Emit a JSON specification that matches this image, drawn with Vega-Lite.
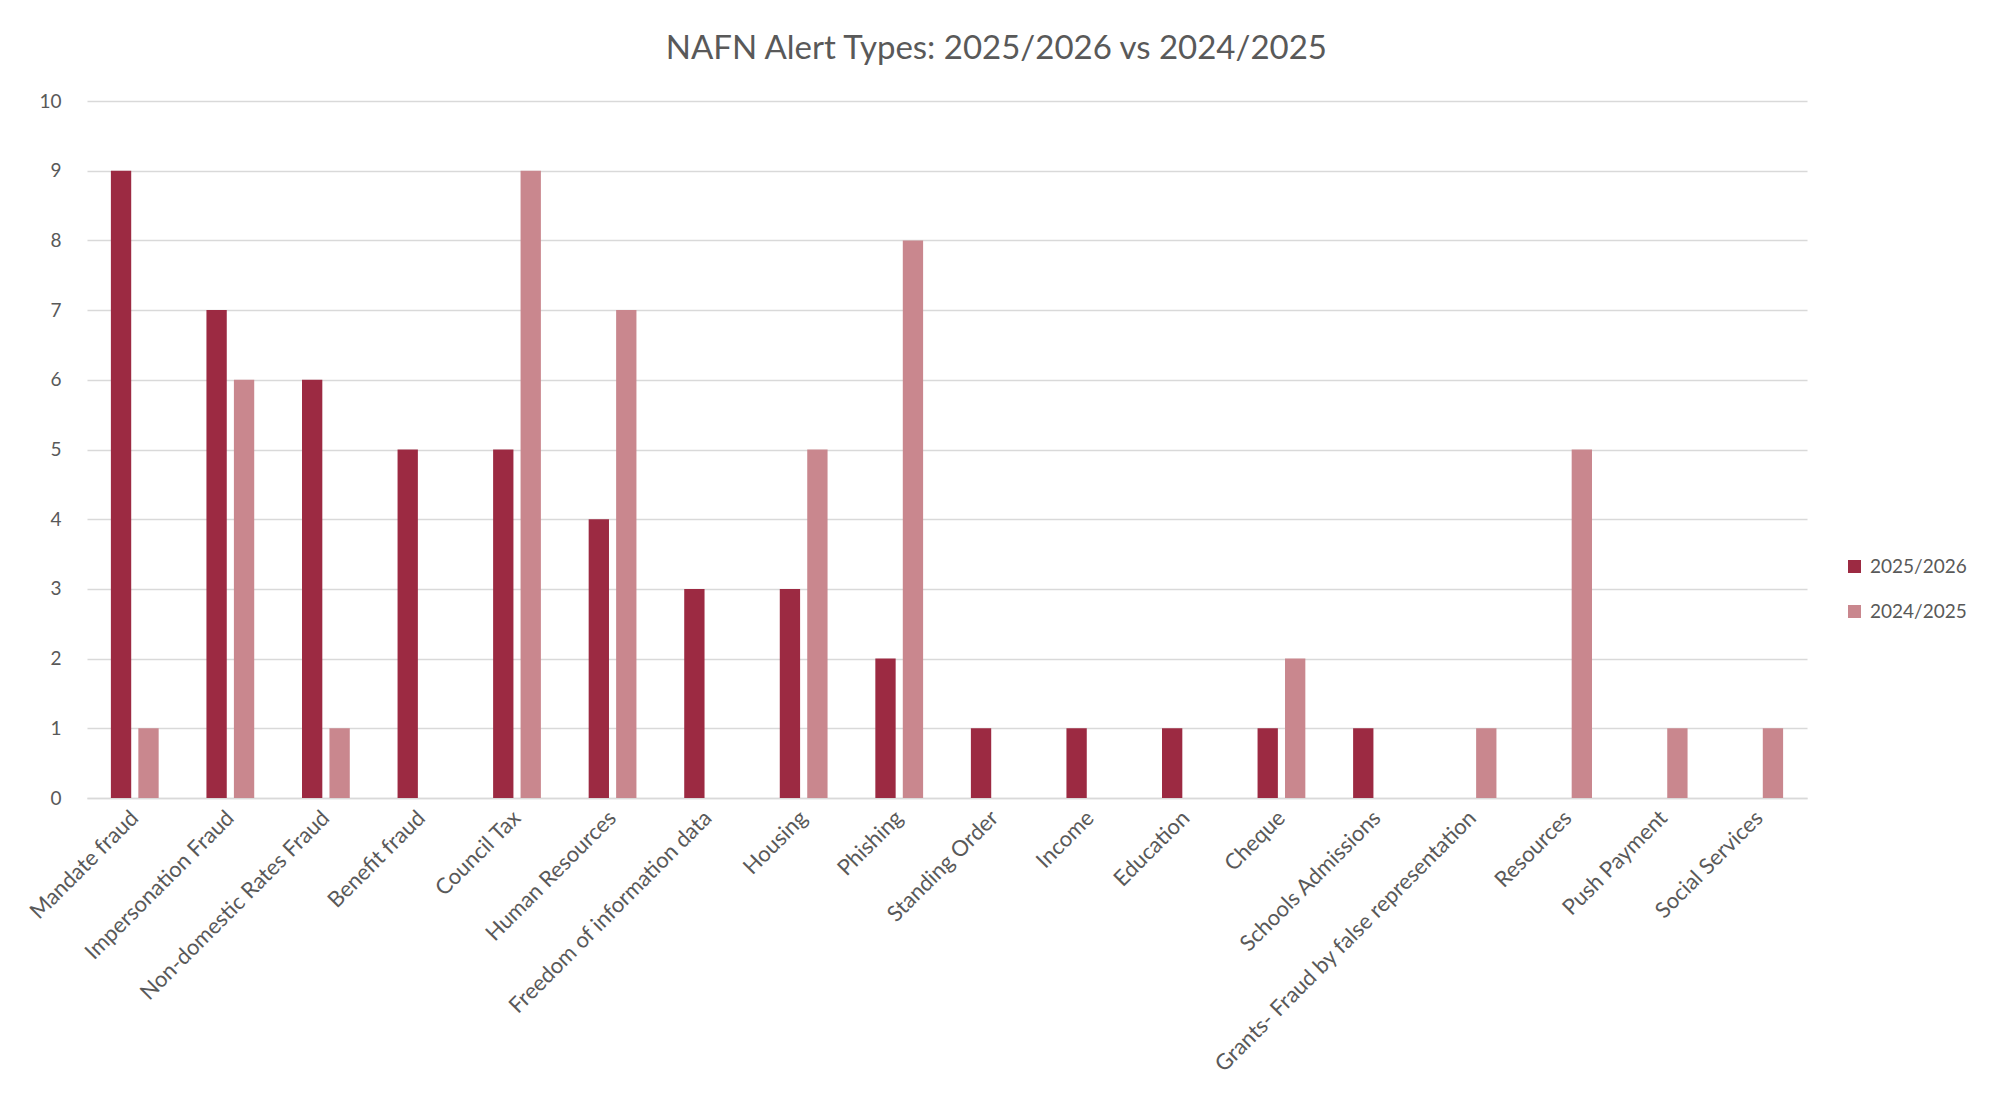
{
  "$schema": "https://vega.github.io/schema/vega-lite/v6.json",
  "autosize": "none",
  "width": 1720,
  "height": 697,
  "padding": {"left": 87, "top": 101, "right": 195, "bottom": 308},
  "background": "white",
  "title": {
    "text": "NAFN Alert Types: 2025/2026 vs 2024/2025",
    "font": "Lato",
    "fontSize": 33,
    "fontWeight": "normal",
    "color": "#595959",
    "anchor": "middle",
    "frame": "bounds",
    "offset": 26
  },
  "data": {
    "values": [
      {"type": "Mandate fraud", "year": "2025/2026", "count": 9},
      {"type": "Mandate fraud", "year": "2024/2025", "count": 1},
      {"type": "Impersonation Fraud", "year": "2025/2026", "count": 7},
      {"type": "Impersonation Fraud", "year": "2024/2025", "count": 6},
      {"type": "Non-domestic Rates Fraud", "year": "2025/2026", "count": 6},
      {"type": "Non-domestic Rates Fraud", "year": "2024/2025", "count": 1},
      {"type": "Benefit fraud", "year": "2025/2026", "count": 5},
      {"type": "Benefit fraud", "year": "2024/2025", "count": 0},
      {"type": "Council Tax", "year": "2025/2026", "count": 5},
      {"type": "Council Tax", "year": "2024/2025", "count": 9},
      {"type": "Human Resources", "year": "2025/2026", "count": 4},
      {"type": "Human Resources", "year": "2024/2025", "count": 7},
      {"type": "Freedom of information data", "year": "2025/2026", "count": 3},
      {"type": "Freedom of information data", "year": "2024/2025", "count": 0},
      {"type": "Housing", "year": "2025/2026", "count": 3},
      {"type": "Housing", "year": "2024/2025", "count": 5},
      {"type": "Phishing", "year": "2025/2026", "count": 2},
      {"type": "Phishing", "year": "2024/2025", "count": 8},
      {"type": "Standing Order", "year": "2025/2026", "count": 1},
      {"type": "Standing Order", "year": "2024/2025", "count": 0},
      {"type": "Income", "year": "2025/2026", "count": 1},
      {"type": "Income", "year": "2024/2025", "count": 0},
      {"type": "Education", "year": "2025/2026", "count": 1},
      {"type": "Education", "year": "2024/2025", "count": 0},
      {"type": "Cheque", "year": "2025/2026", "count": 1},
      {"type": "Cheque", "year": "2024/2025", "count": 2},
      {"type": "Schools Admissions", "year": "2025/2026", "count": 1},
      {"type": "Schools Admissions", "year": "2024/2025", "count": 0},
      {"type": "Grants- Fraud by false representation", "year": "2025/2026", "count": 0},
      {"type": "Grants- Fraud by false representation", "year": "2024/2025", "count": 1},
      {"type": "Resources", "year": "2025/2026", "count": 0},
      {"type": "Resources", "year": "2024/2025", "count": 5},
      {"type": "Push Payment", "year": "2025/2026", "count": 0},
      {"type": "Push Payment", "year": "2024/2025", "count": 1},
      {"type": "Social Services", "year": "2025/2026", "count": 0},
      {"type": "Social Services", "year": "2024/2025", "count": 1}
    ]
  },
  "mark": {"type": "bar"},
  "encoding": {
    "x": {
      "field": "type",
      "type": "nominal",
      "sort": null,
      "title": null,
      "scale": {"paddingInner": 0.5, "paddingOuter": 0.25},
      "axis": {
        "labelAngle": -45,
        "labelAlign": "right",
        "labelBaseline": "middle",
        "labelFont": "Lato",
        "labelFontSize": 22,
        "labelColor": "#595959",
        "labelPadding": 16,
        "labelLimit": 600,
        "ticks": false,
        "domainColor": "#D9D9D9",
        "domainWidth": 1.5
      }
    },
    "xOffset": {
      "field": "year",
      "type": "nominal",
      "sort": ["2025/2026", "2024/2025"],
      "scale": {"paddingInner": 0.26, "paddingOuter": 0}
    },
    "y": {
      "field": "count",
      "type": "quantitative",
      "title": null,
      "scale": {"domain": [0, 10], "nice": false},
      "axis": {
        "values": [0, 1, 2, 3, 4, 5, 6, 7, 8, 9, 10],
        "format": "d",
        "labelFont": "Lato",
        "labelFontSize": 19,
        "labelColor": "#595959",
        "labelPadding": 26,
        "ticks": false,
        "domain": false,
        "gridColor": "#D9D9D9",
        "gridWidth": 1.5
      }
    },
    "color": {
      "field": "year",
      "type": "nominal",
      "sort": ["2025/2026", "2024/2025"],
      "title": null,
      "scale": {"domain": ["2025/2026", "2024/2025"], "range": ["#9C2A42", "#C9878E"]},
      "legend": {
        "orient": "none",
        "legendX": 1758,
        "legendY": 456,
        "symbolType": "square",
        "symbolSize": 170,
        "symbolStrokeWidth": 0,
        "symbolOpacity": 1,
        "labelFont": "Lato",
        "labelFontSize": 19,
        "labelColor": "#595959",
        "labelOffset": 6,
        "rowPadding": 25
      }
    }
  },
  "config": {
    "view": {"stroke": null}
  }
}
